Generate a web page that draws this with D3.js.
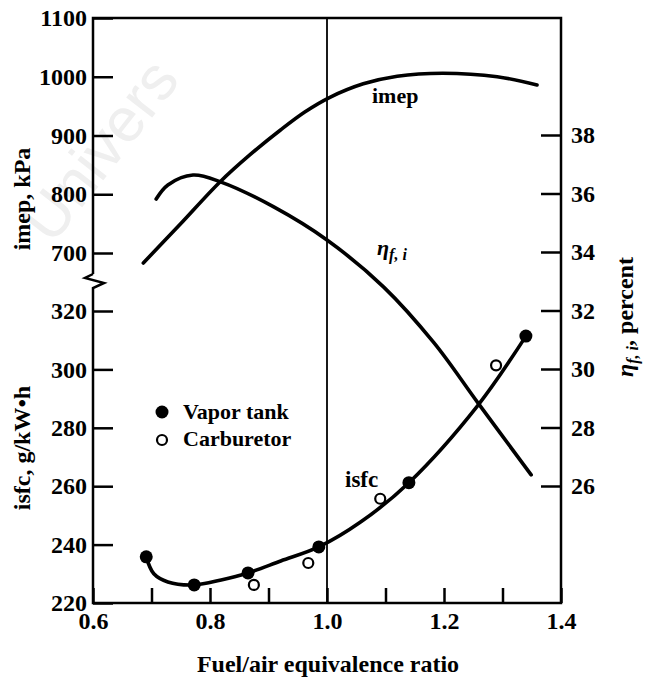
<!DOCTYPE html>
<html><head><meta charset="utf-8">
<script src="https://cdn.jsdelivr.net/npm/d3@7/dist/d3.min.js"></script>
<style>
html,body{margin:0;padding:0;background:#fff;}
svg{display:block;}
svg text{font-family:"Liberation Serif","DejaVu Serif","Noto Serif",Tinos,"Times New Roman",Times,serif;}
</style></head>
<body><svg id="c" width="646" height="680"></svg>
<script>
// ---- data ----
const phiImep = [0.686, 0.749, 0.817, 0.868, 0.920, 0.962, 1.005, 1.062, 1.120, 1.198, 1.291, 1.359];
const imepVals = [683, 749, 821, 867, 909, 940, 965, 988, 1001, 1006, 1000, 986];

const phiEta = [0.708, 0.728, 0.771, 0.819, 0.909, 1.0, 1.097, 1.183, 1.258, 1.349];
const etaVals = [35.81, 36.29, 36.63, 36.39, 35.54, 34.41, 32.80, 30.89, 28.84, 26.38];

const phiIsfcCurve = [0.691, 0.704, 0.728, 0.773, 0.819, 0.865, 0.921, 0.986, 1.058, 1.140, 1.258, 1.340];
const isfcCurve = [235.8, 230.0, 227.2, 226.2, 227.9, 230.3, 234.4, 239.2, 247.8, 261.2, 287.7, 311.4];

const phiVapor = [0.691, 0.773, 0.865, 0.986, 1.140, 1.340];
const isfcVapor = [235.8, 226.2, 230.3, 239.2, 261.2, 311.4];

const phiCarb = [0.875, 0.968, 1.091, 1.289];
const isfcCarb = [226.2, 233.7, 255.7, 301.4];

const xTicks = [0.6, 0.7, 0.8, 0.9, 1.0, 1.1, 1.2, 1.3, 1.4];
const xTickLabels = ["0.6", "", "0.8", "", "1.0", "", "1.2", "", "1.4"];
const imepTicks = [700, 800, 900, 1000, 1100];
const isfcTicks = [220, 240, 260, 280, 300, 320];
const etaTicks = [26, 28, 30, 32, 34, 36, 38];

// ---- scales ----
const L = 93, R = 561, T = 18, B = 603;
const x = d3.scaleLinear().domain([0.6, 1.4]).range([L, R]);
const yImep = d3.scaleLinear().domain([700, 1100]).range([253, T]);
const yIsfc = d3.scaleLinear().domain([220, 320]).range([B, 311]);
const yEta = d3.scaleLinear().domain([26, 38]).range([486, 135]);

const SERIF = "'Liberation Serif','DejaVu Serif','Noto Serif',Tinos,'Times New Roman',Times,serif";
const svg = d3.select("#c");

// faint watermark
svg.append("text").attr("transform", "translate(52,246) rotate(-52)")
  .attr("font-size", 62).style("font-family", "'Liberation Sans',sans-serif")
  .attr("fill", "#efefef").text("Univers");

const FS = 24;
function styleAxis(g) {
  g.attr("font-family", SERIF);
  g.select(".domain").remove();
  g.selectAll(".tick line").attr("stroke", "#000").attr("stroke-width", 2.5);
  g.selectAll(".tick text").attr("font-size", FS).attr("font-weight", "bold")
    .attr("fill", "#000").style("font-family", SERIF);
}

// x axis
svg.append("g").attr("transform", `translate(0,${B})`)
  .call(d3.axisBottom(x).tickValues(xTicks).tickSizeInner(-15).tickSizeOuter(0).tickPadding(9)
    .tickFormat((d, i) => xTickLabels[i]))
  .call(styleAxis);

// left imep axis
svg.append("g").attr("transform", `translate(${L},0)`)
  .call(d3.axisLeft(yImep).tickValues(imepTicks).tickSizeInner(-20).tickSizeOuter(0).tickPadding(6)
    .tickFormat(d3.format("d")))
  .call(styleAxis);

// left isfc axis
svg.append("g").attr("transform", `translate(${L},0)`)
  .call(d3.axisLeft(yIsfc).tickValues(isfcTicks).tickSizeInner(-20).tickSizeOuter(0).tickPadding(6)
    .tickFormat(d3.format("d")))
  .call(styleAxis);

// right eta axis
svg.append("g").attr("transform", `translate(${R},0)`)
  .call(d3.axisRight(yEta).tickValues(etaTicks).tickSizeInner(-20).tickSizeOuter(0).tickPadding(10)
    .tickFormat(d3.format("d")))
  .call(styleAxis);

// frame with break on left axis
const brk = 274;
svg.append("path")
  .attr("d", `M${L},${brk} L${L},${T} L${R},${T} L${R},${B} L${L},${B} L${L},${brk + 14}
              L${L + 11},${brk + 9} L${L - 8},${brk + 4} L${L},${brk}`)
  .attr("fill", "none").attr("stroke", "#000").attr("stroke-width", 2.5).attr("stroke-linejoin", "miter");

// vertical line at phi = 1
svg.append("line").attr("x1", x(1.0)).attr("x2", x(1.0)).attr("y1", T).attr("y2", B)
  .attr("stroke", "#000").attr("stroke-width", 1.8);

// curves
const curve = d3.curveCatmullRom.alpha(0.5);
const lineImep = d3.line().x(d => x(d[0])).y(d => yImep(d[1])).curve(curve);
const lineEta = d3.line().x(d => x(d[0])).y(d => yEta(d[1])).curve(curve);
const lineIsfc = d3.line().x(d => x(d[0])).y(d => yIsfc(d[1])).curve(curve);

svg.append("path").datum(d3.zip(phiImep, imepVals)).attr("d", lineImep)
  .attr("fill", "none").attr("stroke", "#000").attr("stroke-width", 3.6).attr("stroke-linecap", "round");
svg.append("path").datum(d3.zip(phiEta, etaVals)).attr("d", lineEta)
  .attr("fill", "none").attr("stroke", "#000").attr("stroke-width", 3.6).attr("stroke-linecap", "round");
svg.append("path").datum(d3.zip(phiIsfcCurve, isfcCurve)).attr("d", lineIsfc)
  .attr("fill", "none").attr("stroke", "#000").attr("stroke-width", 3.6).attr("stroke-linecap", "round");

// points
svg.append("g").selectAll("circle").data(d3.zip(phiCarb, isfcCarb)).join("circle")
  .attr("cx", d => x(d[0])).attr("cy", d => yIsfc(d[1])).attr("r", 5)
  .attr("fill", "#fff").attr("stroke", "#000").attr("stroke-width", 2.2);
svg.append("g").selectAll("circle").data(d3.zip(phiVapor, isfcVapor)).join("circle")
  .attr("cx", d => x(d[0])).attr("cy", d => yIsfc(d[1])).attr("r", 6.5).attr("fill", "#000");

// legend
svg.append("circle").attr("cx", 162).attr("cy", 412).attr("r", 6.5).attr("fill", "#000");
svg.append("circle").attr("cx", 162).attr("cy", 440).attr("r", 5)
  .attr("fill", "#fff").attr("stroke", "#000").attr("stroke-width", 2.2);
function txt(xp, yp, size, s) {
  return svg.append("text").attr("x", xp).attr("y", yp).attr("font-size", size)
    .attr("font-weight", "bold").style("font-family", SERIF).text(s);
}
txt(183, 419, 22, "Vapor tank");
txt(183, 446, 22, "Carburetor");

// curve labels
txt(372, 103, 22, "imep");
const eL = txt(377, 255, 22, "").attr("font-style", "italic");
eL.append("tspan").text("η");
eL.append("tspan").attr("dy", 5).attr("font-size", 16).text("f, i");
txt(345, 487, 23, "isfc");

// axis titles
txt(328, 672, 24, "Fuel/air equivalence ratio").attr("text-anchor", "middle");
txt(0, 0, 24, "imep, kPa").attr("text-anchor", "middle").attr("transform", "translate(30,199) rotate(-90)");
txt(0, 0, 24, "isfc,  g/kW\u2022h").attr("text-anchor", "middle").attr("transform", "translate(30,448) rotate(-90)");
const rT = txt(0, 0, 24, "").attr("text-anchor", "middle").attr("transform", "translate(633,317) rotate(-90)");
rT.append("tspan").attr("font-style", "italic").text("η");
rT.append("tspan").attr("font-style", "italic").attr("font-size", 16).attr("dy", 5).text("f, i");
rT.append("tspan").attr("dy", -5).text(", percent");
</script></body></html>
